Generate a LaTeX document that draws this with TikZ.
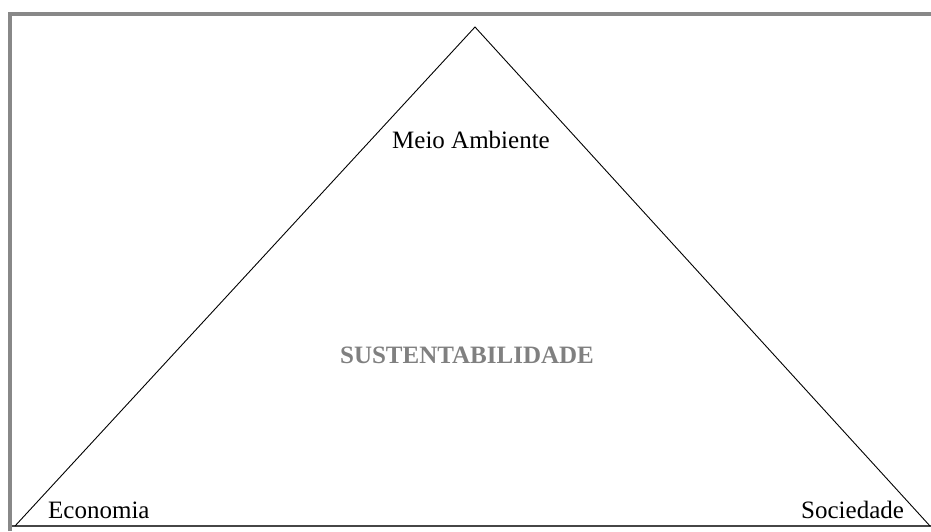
\documentclass[tikz,border=0pt]{standalone}
\usepackage{fontspec}
\setmainfont{Liberation Serif}
\usepackage{xcolor}
\usetikzlibrary{positioning}
\definecolor{framegray}{RGB}{136, 136, 136}
\definecolor{basegray}{RGB}{70, 70, 70}
\definecolor{titlegray}{RGB}{128, 128, 128}

\begin{document}
\begin{tikzpicture}[
    x=1pt, y=-1pt,
    every node/.style={align=center, inner sep=0pt},
    pillar/.style={font=\fontsize{25}{30}\selectfont, text=black, anchor=base west},
    title/.style={font=\fontsize{25}{30}\selectfont\bfseries, text=titlegray, anchor=base},
    frame/.style={draw=framegray, line width=4pt},
    edge/.style={draw=black, line width=0.9pt}
]
\useasboundingbox (0,0) rectangle (931,531);

% frame of the figure
\draw[frame] (10,531) -- (10,14) -- (931,14);
\draw[draw=basegray, line width=2pt] (12,526) -- (931,526);

% corners of the triangle
\coordinate (top) at (475,27);
\coordinate (left) at (15,526);
\coordinate (right) at (930,526);
\draw[edge, line join=miter] (left) -- (top) -- (right);

% labels
\node[pillar, anchor=base] (meio) at (471,148) {Meio Ambiente};
\node[pillar] (economia) at (48,518) {Economia};
\node[pillar] (sociedade) at (801,518) {Sociedade};
\node[title] (sust) at (467,363) {SUSTENTABILIDADE};

\end{tikzpicture}
\end{document}
